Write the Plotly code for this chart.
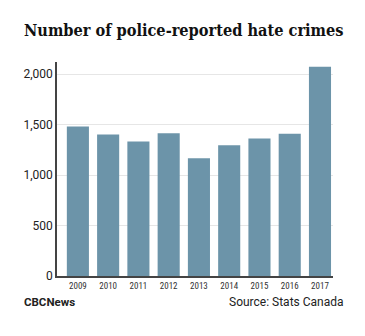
import plotly.graph_objects as go

years = ["2009", "2010", "2011", "2012", "2013", "2014", "2015", "2016", "2017"]
crimes = [1482, 1401, 1332, 1414, 1167, 1295, 1362, 1409, 2073]
y_ticks = [0, 500, 1000, 1500, 2000]
y_tick_labels = ["0", "500", "1,000", "1,500", "2,000"]

L, R, T, B = 57, 32, 62, 60
W, H = 365, 336
pw, ph = W - L - R, H - T - B


def px(x):
    return (x - L) / pw


def py(y):
    return 1 - (y - T) / ph


fig = go.Figure(go.Bar(x=years, y=crimes, marker=dict(color="#6c94a9", line=dict(width=0))))

fig.update_layout(
    width=W, height=H,
    margin=dict(l=L, r=R, t=T, b=B),
    paper_bgcolor="white", plot_bgcolor="white",
    bargap=0.27,
    showlegend=False,
    xaxis=dict(type="category", range=[-0.69, 8.43], showgrid=False,
               showline=True, linecolor="#444", linewidth=1.5,
               ticks="", tickfont=dict(family="Roboto Condensed, Roboto", size=9, color="#333"),
               fixedrange=True),
    yaxis=dict(range=[0, 2120], tickvals=y_ticks, ticktext=y_tick_labels,
               showgrid=True, gridcolor="#e6e6e6", gridwidth=1,
               showline=True, linecolor="#444", linewidth=1.5, zeroline=False,
               ticks="", ticklen=0, tickfont=dict(family="Roboto", size=12, color="#222"),
               fixedrange=True),
    annotations=[
        dict(text="<b>Number of police-reported hate crimes</b>", x=px(22), y=py(30),
             xref="paper", yref="paper", showarrow=False, xanchor="left", yanchor="middle",
             font=dict(family="DejaVu Serif Condensed", size=16.2, color="#111")),
        dict(text="<b>CBCNews</b>", x=px(22), y=py(302), xref="paper", yref="paper",
             showarrow=False, xanchor="left", yanchor="middle",
             font=dict(family="Roboto", size=11.5, color="#222")),
        dict(text="Source: Stats Canada", x=px(346), y=py(302), xref="paper", yref="paper",
             showarrow=False, xanchor="right", yanchor="middle",
             font=dict(family="Roboto", size=12, color="#222")),
    ],
)

fig.write_html("out.html", config={"displayModeBar": False})
